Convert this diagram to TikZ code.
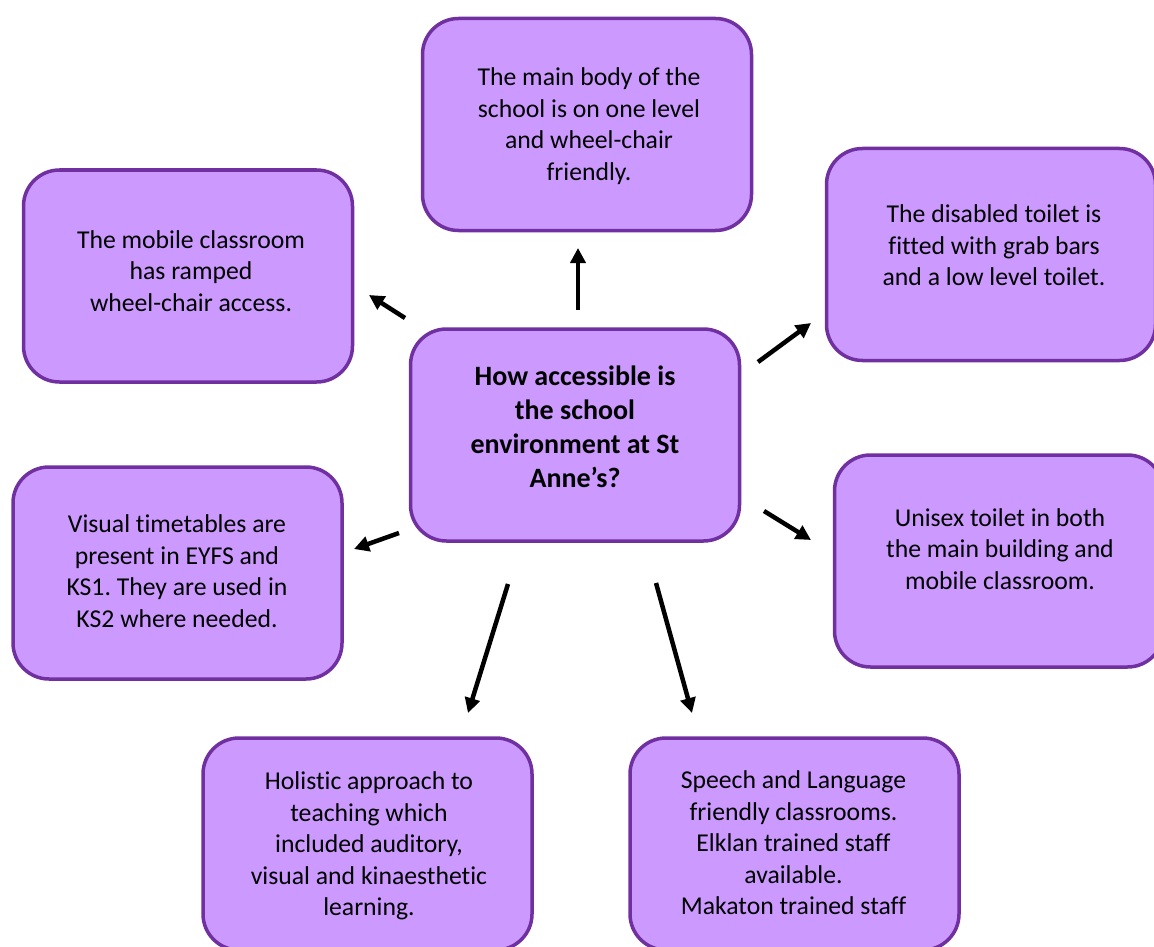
\documentclass[tikz,border=0pt]{standalone}
\usepackage{fontspec}
\setmainfont{Carlito}[Ligatures=NoCommon]
\usetikzlibrary{arrows.meta}
\definecolor{boxfill}{HTML}{CC99FF}
\definecolor{boxline}{HTML}{7030A0}
\frenchspacing
\begin{document}
\begin{tikzpicture}[x=1pt,y=-1pt,
  box/.style={draw=boxline, fill=boxfill, line width=3.5pt, rounded corners=36pt,
    minimum width=329pt, minimum height=212pt, inner sep=0pt},
  txt/.style={align=center, font=\fontsize{25.7}{31.5}\selectfont, inner sep=0pt},
  ctxt/.style={align=center, font=\fontsize{28}{34}\selectfont\bfseries, inner sep=0pt},
  arr/.style={line width=4.5pt, -{Triangle[length=15pt,width=15pt]}}]
\useasboundingbox (0,0) rectangle (1154,947);
\clip (0,0) rectangle (1154,947);
% boxes
\node[box] (top) at (587,124.5) {};
\node[box] (mob) at (188,276) {};
\node[box] (dis) at (991,254.5) {};
\node[box] (cen) at (575,435) {};
\node[box] (vis) at (177.5,573) {};
\node[box] (uni) at (999,561) {};
\node[box] (hol) at (367.5,844) {};
\node[box] (spe) at (794.5,844) {};
% texts
\node[txt] (topt) at (589,126) {The main body of the\\school is on one level\\and wheel-chair\\friendly.};
\node[txt] (mobt) at (191,271) {The mobile classroom\\has ramped\\wheel-chair access.};
\node[txt] (dist) at (994,245.5) {The disabled toilet is\\fitted with grab bars\\and a low level toilet.};
\node[ctxt] (cent) at (575,427) {How accessible is\\the school\\environment at St\\Anne’s?};
\node[txt] (vist) at (177,571) {Visual timetables are\\present in EYFS and\\KS1. They are used in\\KS2 where needed.};
\node[txt] (unit) at (1000,549) {Unisex toilet in both\\the main building and\\mobile classroom.};
\node[txt] (holt) at (369,846) {Holistic approach to\\teaching which\\included auditory,\\visual and kinaesthetic\\learning.};
\node[txt] (spet) at (793.5,843) {Speech and Language\\friendly classrooms.\\Elklan trained staff\\available.\\Makaton trained staff};
% arrow ends
\coordinate (a1s) at (578,310); \coordinate (a1e) at (578,248);
\coordinate (a2s) at (405,318); \coordinate (a2e) at (369,295);
\coordinate (a3s) at (758,362); \coordinate (a3e) at (811,323);
\coordinate (a4s) at (764,511); \coordinate (a4e) at (811,540);
\coordinate (a5s) at (399,533); \coordinate (a5e) at (354,549);
\coordinate (a6s) at (508,584); \coordinate (a6e) at (468,713);
\coordinate (a7s) at (656,583); \coordinate (a7e) at (692,713);
\draw[arr] (a1s) -- (a1e);
\draw[arr] (a2s) -- (a2e);
\draw[arr] (a3s) -- (a3e);
\draw[arr] (a4s) -- (a4e);
\draw[arr] (a5s) -- (a5e);
\draw[arr] (a6s) -- (a6e);
\draw[arr] (a7s) -- (a7e);
\end{tikzpicture}
\end{document}
